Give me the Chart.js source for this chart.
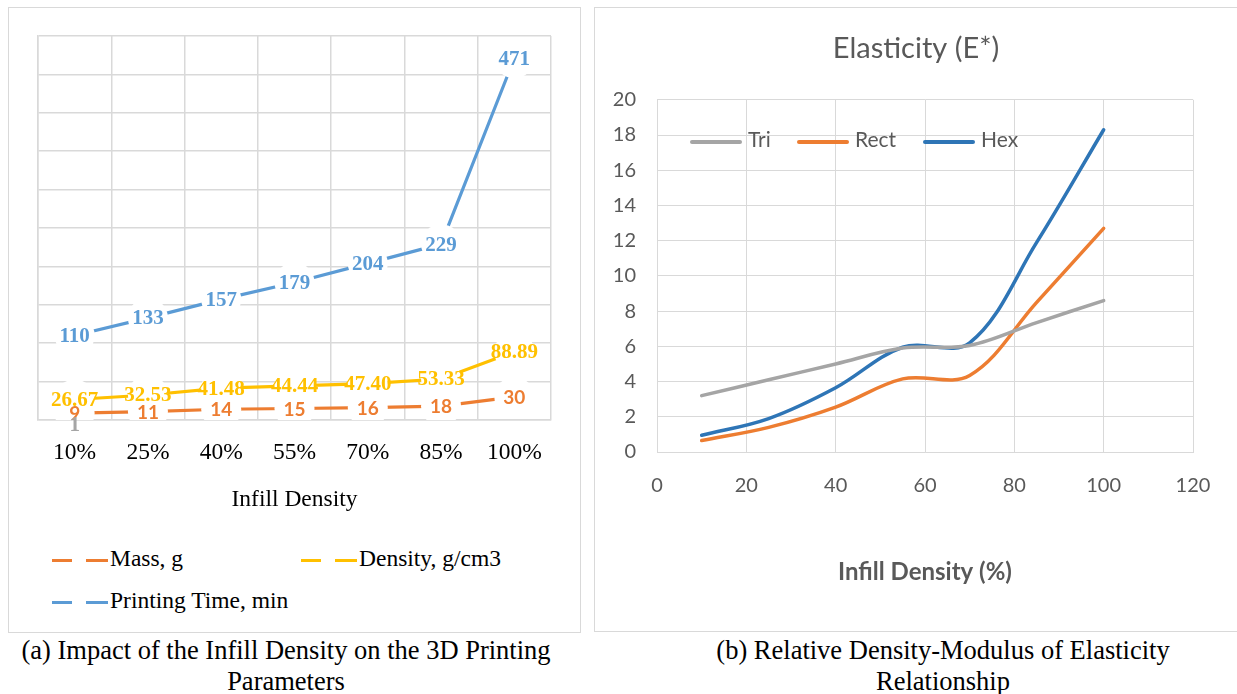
<!DOCTYPE html>
<html>
<head>
<meta charset="utf-8">
<script src="https://cdn.jsdelivr.net/npm/chart.js@4/dist/chart.umd.min.js"></script>
<style>
  body { margin: 0; background: #fff; width: 1237px; height: 694px; overflow: hidden; position: relative;
         font-family: "Liberation Serif", "Times New Roman", serif; }
  .box { position: absolute; border: 1px solid #d9d9d9; box-sizing: border-box; }
  #boxA { left: 8px; top: 7px; width: 573px; height: 626px; }
  #boxB { left: 594px; top: 7px; width: 660px; height: 625px; }
  #cA { position: absolute; left: 9px; top: 8px; }
  #cB { position: absolute; left: 595px; top: 8px; }
  .lg { position: absolute; font-size: 23.5px; color: #000; white-space: nowrap; line-height: 26px; }
  .lg .sw { display: inline-block; width: 56px; height: 3px; vertical-align: middle; margin-right: 2px; }
  .lgB { position: absolute; font-family: Lato, "Open Sans", sans-serif; font-size: 21px; color: #595959;
         white-space: nowrap; line-height: 24px; }
  .lgB .sw { display: inline-block; width: 52px; height: 4px; border-radius: 2px; vertical-align: middle; margin-right: 6px; }
  .cap { position: absolute; top: 635px; text-align: center; font-size: 26.5px; line-height: 31px; color: #000; }
</style>
</head>
<body>
<div class="box" id="boxA"></div>
<div class="box" id="boxB"></div>
<canvas id="cA" width="571" height="520"></canvas>
<canvas id="cB" width="642" height="623"></canvas>

<div id="legA"></div>
<div id="legB"></div>

<div class="cap" style="left:0;width:572px;">(a) Impact of the Infill Density on the 3D Printing<br>Parameters</div>
<div class="cap" style="left:594px;width:698px;">(b) Relative Density-Modulus of Elasticity<br>Relationship</div>

<script>
// ── left chart data ──
const infill = ['10%', '25%', '40%', '55%', '70%', '85%', '100%'];
const mass = [9, 11, 14, 15, 16, 18, 30];
const density = [26.67, 32.53, 41.48, 44.44, 47.40, 53.33, 88.89];
const printTime = [110, 133, 157, 179, 204, 229, 471];
const extra = [1, null, null, null, null, null, null];

// ── right chart data ──
const relDensity = [10, 25, 40, 55, 70, 85, 100];
const tri = [3.2, 4.1, 5.0, 5.9, 6.05, 7.35, 8.6];
const rect = [0.65, 1.4, 2.55, 4.15, 4.35, 8.5, 12.7];
const hex = [0.95, 1.9, 3.65, 5.95, 6.2, 11.9, 18.3];

const serif = '"Liberation Serif", "Times New Roman", serif';
const sans = 'Lato, "Open Sans", sans-serif';

// centred value labels, drawn on top of the white markers
const pointLabels = {
    id: 'pointLabels',
    afterDatasetsDraw(chart) {
        const ctx = chart.ctx;
        chart.data.datasets.forEach((ds, i) => {
            if (!ds.labelFont) return;
            const meta = chart.getDatasetMeta(i);
            ctx.save();
            ctx.font = ds.labelFont;
            ctx.fillStyle = ds.borderColor;
            ctx.textAlign = 'center';
            ctx.textBaseline = 'middle';
            meta.data.forEach((pt, j) => {
                const v = ds.data[j];
                if (v == null) return;
                ctx.fillText(ds.fmt ? ds.fmt(v) : String(v), pt.x, pt.y + 1 + (ds.labelShift || 0));
            });
            ctx.restore();
        });
    }
};

function lineSet(label, data, color, font, fmt) {
    return {
        label, data,
        borderColor: color,
        borderWidth: 3.2,
        pointRadius: 20,
        pointHoverRadius: 20,
        pointBackgroundColor: '#fff',
        pointBorderWidth: 0,
        tension: 0,
        labelFont: font,
        fmt
    };
}

new Chart(document.getElementById('cA'), {
    type: 'line',
    data: {
        labels: infill,
        datasets: [
            lineSet('Mass, g', mass, '#ED7D31', 'bold 19px ' + sans),
            lineSet('Density, g/cm3', density, '#FFC000', 'bold 21px ' + serif, v => v.toFixed(2)),
            lineSet('Printing Time, min', printTime, '#5B9BD5', 'bold 21px ' + serif),
            Object.assign(lineSet('', extra, '#A5A5A5', 'bold 21px ' + serif), { pointRadius: 0, labelShift: 5 })
        ]
    },
    options: {
        responsive: false,
        animation: false,
        layout: { padding: { left: 29, right: 29, top: 28, bottom: 0 } },
        plugins: { legend: { display: false }, tooltip: { enabled: false } },
        scales: {
            x: {
                offset: true,
                grid: { offset: true, color: '#d9d9d9', lineWidth: 1.5, drawTicks: false },
                border: { color: '#d9d9d9', width: 1.5 },
                ticks: { color: '#000', font: { family: serif, size: 23.5 }, padding: 19, maxRotation: 0 },
                title: { display: true, text: 'Infill Density', color: '#000',
                         font: { family: serif, size: 23.5 }, padding: { top: 0, bottom: 14 } },
                afterFit: s => { s.height = 108; }
            },
            y: {
                min: 0, max: 500,
                ticks: { display: false, stepSize: 50 },
                grid: { color: '#d9d9d9', lineWidth: 1.5, drawTicks: false },
                border: { color: '#d9d9d9', width: 1.5 },
                afterFit: s => { s.width = 0; }
            }
        }
    },
    plugins: [pointLabels]
});

const pts = ys => relDensity.map((x, i) => ({ x, y: ys[i] }));
const curve = (label, ys, color) => ({
    label, data: pts(ys), borderColor: color, backgroundColor: color,
    borderWidth: 3.5, pointRadius: 0, tension: 0.35, borderCapStyle: 'round'
});

new Chart(document.getElementById('cB'), {
    type: 'line',
    data: {
        datasets: [
            curve('Tri', tri, '#A5A5A5'),
            curve('Rect', rect, '#ED7D31'),
            curve('Hex', hex, '#2E75B6')
        ]
    },
    options: {
        responsive: false,
        animation: false,
        layout: { padding: 0 },
        plugins: {
            legend: { display: false },
            tooltip: { enabled: false },
            title: { display: true, text: 'Elasticity (E*)', color: '#595959',
                     font: { family: sans, size: 29, weight: 'normal' }, padding: { top: 23, bottom: 34 } }
        },
        scales: {
            x: {
                type: 'linear', min: 0, max: 120,
                ticks: { stepSize: 20, color: '#595959', font: { family: sans, size: 20 }, padding: 22 },
                grid: { color: '#d9d9d9', drawTicks: false },
                border: { color: '#d9d9d9' },
                title: { display: true, text: 'Infill Density (%)', color: '#595959',
                         font: { family: sans, size: 24, weight: 'bold' }, padding: { top: 0, bottom: 44 } },
                afterFit: s => { s.height = 179; s.paddingRight = 44; }
            },
            y: {
                min: 0, max: 20,
                ticks: { stepSize: 2, color: '#595959', font: { family: sans, size: 20 }, padding: 21 },
                grid: { color: '#d9d9d9', drawTicks: false },
                border: { color: '#d9d9d9' },
                afterFit: s => { s.width = 62; }
            }
        }
    }
});

// ── legends ──
const legA = [
    { text: 'Mass, g', color: '#ED7D31', left: 52, top: 545 },
    { text: 'Density, g/cm3', color: '#FFC000', left: 301, top: 545 },
    { text: 'Printing Time, min', color: '#5B9BD5', left: 52, top: 587 }
];
document.getElementById('legA').innerHTML = legA.map(d =>
    `<div class="lg" style="left:${d.left}px;top:${d.top}px;"><span class="sw" style="background:linear-gradient(to right, ${d.color} 0 20px, transparent 20px 34px, ${d.color} 34px 56px);"></span>${d.text}</div>`
).join('');

const legB = [
    { text: 'Tri', color: '#A5A5A5', left: 690 },
    { text: 'Rect', color: '#ED7D31', left: 797 },
    { text: 'Hex', color: '#2E75B6', left: 923 }
];
document.getElementById('legB').innerHTML = legB.map(d =>
    `<div class="lgB" style="left:${d.left}px;top:127px;"><span class="sw" style="background:${d.color};"></span>${d.text}</div>`
).join('');
</script>
</body>
</html>
